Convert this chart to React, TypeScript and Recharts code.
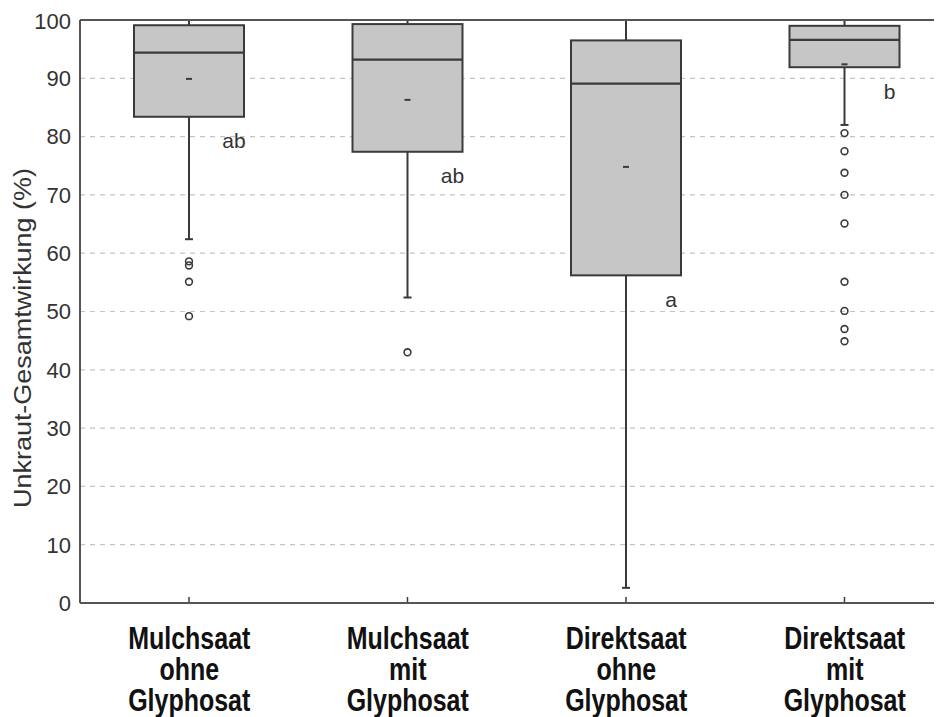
import React from 'react';
import { ComposedChart, Bar, XAxis, YAxis, CartesianGrid, ReferenceLine } from 'recharts';

// Treatments (each label is split into lines on spaces)
const categories = [
  'Mulchsaat ohne Glyphosat',
  'Mulchsaat mit Glyphosat',
  'Direktsaat ohne Glyphosat',
  'Direktsaat mit Glyphosat',
];

// Box plot statistics, weed control efficacy in %
const whiskerLow = [62.4, 52.4, 2.6, 82.0];
const q1 = [83.4, 77.4, 56.2, 91.9];
const median = [94.4, 93.2, 89.1, 96.6];
const q3 = [99.1, 99.3, 96.5, 99.0];
const whiskerHigh = [100, 100, 100, 100];
const means = [89.9, 86.3, 74.8, 92.4];
const outliers = [
  [58.6, 57.9, 55.1, 49.2],
  [43.0],
  [],
  [80.6, 77.5, 73.8, 70.0, 65.1, 55.1, 50.1, 47.0, 44.9],
];
const groupLetters = ['ab', 'ab', 'a', 'b'];
const yTicks = [0, 10, 20, 30, 40, 50, 60, 70, 80, 90, 100];

const FONT = '"Liberation Sans", Arial, Helvetica, sans-serif';
const INK = '#3a3a3a';

const data = categories.map((name, i) => ({
  name,
  range: [whiskerLow[i], whiskerHigh[i]],
  lo: whiskerLow[i],
  hi: whiskerHigh[i],
  q1: q1[i],
  median: median[i],
  q3: q3[i],
  mean: means[i],
  outliers: outliers[i],
  letter: groupLetters[i],
}));

function BoxShape(props: any) {
  const { x, y, width, height, payload } = props;
  const top = Math.min(y, y + height);
  const h = Math.abs(height);
  const { lo, hi } = payload;
  const toY = (v: number) => top + ((hi - v) / (hi - lo)) * h;
  const cx = x + width / 2;
  const yQ1 = toY(payload.q1);
  const yQ3 = toY(payload.q3);
  const base = toY(0);
  return (
    <g>
      {/* x-axis tick */}
      <line x1={cx} x2={cx} y1={base} y2={base - 6} stroke={INK} strokeWidth={1.5} />
      {/* whiskers */}
      <line x1={cx} x2={cx} y1={toY(payload.hi)} y2={yQ3} stroke={INK} strokeWidth={2} />
      <line x1={cx} x2={cx} y1={yQ1} y2={toY(payload.lo)} stroke={INK} strokeWidth={2} />
      <line x1={cx - 4} x2={cx + 4} y1={toY(payload.lo)} y2={toY(payload.lo)} stroke={INK} strokeWidth={2} />
      {/* box */}
      <rect x={x} y={yQ3} width={width} height={yQ1 - yQ3} fill="#c6c6c6" stroke={INK} strokeWidth={2} />
      <line x1={x} x2={x + width} y1={toY(payload.median)} y2={toY(payload.median)} stroke={INK} strokeWidth={2.2} />
      {/* mean */}
      <line x1={cx - 3} x2={cx + 3} y1={toY(payload.mean)} y2={toY(payload.mean)} stroke={INK} strokeWidth={2} />
      {/* outliers */}
      {payload.outliers.map((v: number, k: number) => (
        <circle key={k} cx={cx} cy={toY(v)} r={3.4} fill="none" stroke={INK} strokeWidth={1.6} />
      ))}
      {/* significance letter */}
      <text
        x={cx + 45}
        y={yQ1 + 24}
        textAnchor="middle"
        dominantBaseline="central"
        fontFamily={FONT}
        fontSize={21}
        fill="#333"
      >
        {payload.letter}
      </text>
    </g>
  );
}

function CategoryTick(props: any) {
  const { x, payload } = props;
  const lines = String(payload.value).split(' ');
  return (
    <g>
      {lines.map((line, i) => {
        const by = 641 + i * 31;
        return (
          <text
            key={i}
            x={0}
            y={0}
            transform={`translate(${x} ${by}) scale(1 1.22)`}
            textAnchor="middle"
            fontFamily={FONT}
            fontWeight="bold"
            fontSize={25}
            fill="#111"
          >
            {line}
          </text>
        );
      })}
    </g>
  );
}

function YTitle() {
  return (
    <text
      x={15}
      y={330}
      transform="rotate(-90 15 330)"
      textAnchor="middle"
      dominantBaseline="central"
      fontFamily={FONT}
      fontSize={23}
      fill="#333"
      textLength={340}
      lengthAdjust="spacingAndGlyphs"
    >
      Unkraut-Gesamtwirkung (%)
    </text>
  );
}

export default function App() {
  return (
    <div style={{ width: 934, height: 709, overflow: 'hidden' }}>
      <ComposedChart
        width={946}
        height={709}
        data={data}
        margin={{ top: 12, right: 0, left: 0, bottom: 0 }}
      >
        <CartesianGrid vertical={false} stroke="#c4c4c4" strokeDasharray="5 5" strokeWidth={1.2} />
        <XAxis
          dataKey="name"
          type="category"
          height={114}
          axisLine={{ stroke: '#555', strokeWidth: 2 }}
          tickLine={false}
          tick={<CategoryTick />}
          interval={0}
        />
        <YAxis
          type="number"
          domain={[0, 100]}
          ticks={yTicks}
          width={72}
          axisLine={{ stroke: '#555', strokeWidth: 2 }}
          tickLine={false}
          tickMargin={3}
          tick={{ fontFamily: FONT, fontSize: 22, fill: '#333' }}
          allowDataOverflow
          label={{ content: () => <YTitle /> }}
        />
        <ReferenceLine y={100} stroke="#555" strokeWidth={2} />
        <Bar dataKey="range" barSize={110} shape={<BoxShape />} isAnimationActive={false} />
      </ComposedChart>
    </div>
  );
}
